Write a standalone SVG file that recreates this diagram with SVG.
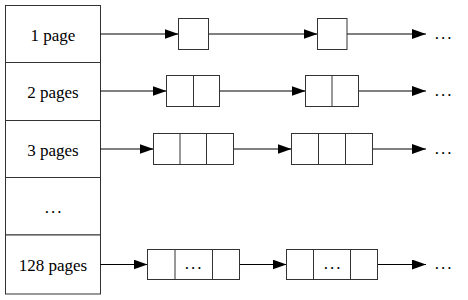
<svg xmlns="http://www.w3.org/2000/svg" width="468" height="300" viewBox="0 0 468 300">
<style>
.cell{fill:#fff;stroke:#333;stroke-width:1}
.box{fill:#fff;stroke:#333;stroke-width:1}
.div{stroke:#333;stroke-width:1}
text{font-family:'Liberation Serif','DejaVu Serif',serif;font-size:17px;fill:#000;text-anchor:middle}
.dots{letter-spacing:2px}
.arr{stroke:#000;stroke-width:1;fill:none;marker-end:url(#ah)}
</style>
<defs>
<marker id="ah" markerUnits="userSpaceOnUse" markerWidth="14" markerHeight="10" refX="14" refY="5" orient="auto">
<path d="M0,0 L14,5 L0,10 z" fill="#000"/>
</marker>
</defs>
<rect width="468" height="300" fill="#fff"/>
<g id="table">
<g id="row1"><rect class="cell" x="5.5" y="5.5" width="95" height="57"/><text x="53" y="40.5">1 page</text></g>
<g id="row2"><rect class="cell" x="5.5" y="62.5" width="95" height="58"/><text x="53" y="98">2 pages</text></g>
<g id="row3"><rect class="cell" x="5.5" y="120.5" width="95" height="57"/><text x="53" y="155.5">3 pages</text></g>
<g id="row4"><rect class="cell" x="5.5" y="177.5" width="95" height="57.5"/><text class="dots" x="54" y="212.5">...</text></g>
<g id="row5"><rect class="cell" x="5.5" y="235" width="95" height="59"/><text x="53" y="271">128 pages</text></g>
</g>
<g id="connectors">
<line class="arr" x1="100.5" y1="34" x2="178.5" y2="34"/>
<line class="arr" x1="208.5" y1="34" x2="317.5" y2="34"/>
<line class="arr" x1="347" y1="34" x2="426" y2="34"/>
<line class="arr" x1="100.5" y1="91" x2="166.5" y2="91"/>
<line class="arr" x1="219.5" y1="91" x2="305.5" y2="91"/>
<line class="arr" x1="358.5" y1="91" x2="426" y2="91"/>
<line class="arr" x1="100.5" y1="149" x2="153.5" y2="149"/>
<line class="arr" x1="233.5" y1="149" x2="291.5" y2="149"/>
<line class="arr" x1="372.5" y1="149" x2="426" y2="149"/>
<line class="arr" x1="100.5" y1="264.5" x2="147.5" y2="264.5"/>
<line class="arr" x1="239.5" y1="264.5" x2="286.5" y2="264.5"/>
<line class="arr" x1="377.5" y1="264.5" x2="426" y2="264.5"/>
</g>
<g id="r1a"><rect class="box" x="178.5" y="18.5" width="30" height="31"/></g>
<g id="r1b"><rect class="box" x="317.5" y="18.5" width="29.5" height="31"/></g>
<g id="r2a"><rect class="box" x="166.5" y="75.5" width="53" height="31"/><line class="div" x1="193.5" y1="75.5" x2="193.5" y2="106.5"/></g>
<g id="r2b"><rect class="box" x="305.5" y="75.5" width="53" height="31"/><line class="div" x1="332" y1="75.5" x2="332" y2="106.5"/></g>
<g id="r3a"><rect class="box" x="153.5" y="133.5" width="80" height="31"/><line class="div" x1="180" y1="133.5" x2="180" y2="164.5"/><line class="div" x1="206.5" y1="133.5" x2="206.5" y2="164.5"/></g>
<g id="r3b"><rect class="box" x="291.5" y="133.5" width="81" height="31"/><line class="div" x1="318.5" y1="133.5" x2="318.5" y2="164.5"/><line class="div" x1="345.5" y1="133.5" x2="345.5" y2="164.5"/></g>
<g id="r5a"><rect class="box" x="147.5" y="249.5" width="92" height="30"/><line class="div" x1="175" y1="249.5" x2="175" y2="279.5"/><line class="div" x1="212.5" y1="249.5" x2="212.5" y2="279.5"/><text class="dots" x="194" y="269">...</text></g>
<g id="r5b"><rect class="box" x="286.5" y="249.5" width="91" height="30"/><line class="div" x1="313.5" y1="249.5" x2="313.5" y2="279.5"/><line class="div" x1="350.5" y1="249.5" x2="350.5" y2="279.5"/><text class="dots" x="333" y="269">...</text></g>
<g id="more1"><text class="dots" x="444" y="38.5">...</text></g>
<g id="more2"><text class="dots" x="444" y="95.5">...</text></g>
<g id="more3"><text class="dots" x="444" y="153.5">...</text></g>
<g id="more5"><text class="dots" x="444" y="269">...</text></g>
</svg>
